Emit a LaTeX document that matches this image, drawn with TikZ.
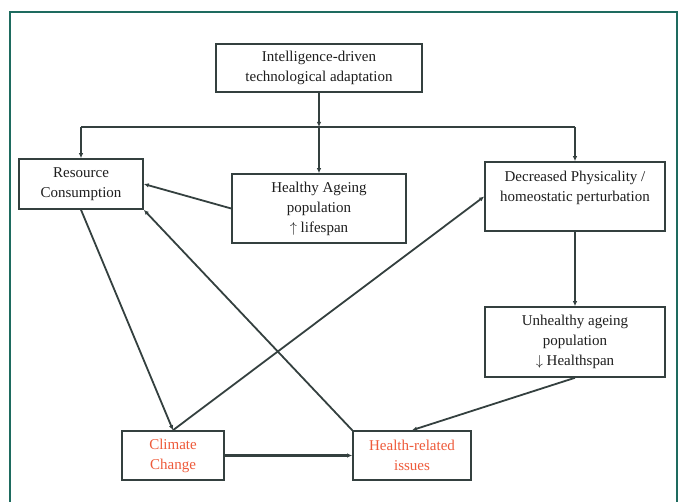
\documentclass[tikz,border=0pt]{standalone}
\usepackage{fontspec}
\setmainfont{Liberation Serif}
\usepackage{tikz}
\usetikzlibrary{arrows.meta,calc}
\definecolor{framegreen}{HTML}{1E6B5F}
\definecolor{boxline}{HTML}{34403F}
\definecolor{inktext}{HTML}{1E1E1E}
\definecolor{alertred}{HTML}{EE5A3A}
\tikzset{
  box/.style={draw=boxline,line width=1.6pt,fill=white,align=center,
    inner sep=2pt,text=inktext,font=\fontsize{15}{20}\selectfont},
  redbox/.style={box,text=alertred},
  link/.style={draw=boxline,line width=1.8pt,-{Latex[length=5pt,width=4.5pt]}}
}
\begin{document}
\begin{tikzpicture}[x=1pt,y=-1pt]
  \useasboundingbox (0,0) rectangle (686,502);
  \clip (0,0) rectangle (686,502);
  \draw[framegreen,line width=2.5pt] (10,12) rectangle (677,530);
  % boxes
  \node[box,minimum width=206pt,minimum height=48pt] (adapt) at (319,68)
    {Intelligence-driven\\technological adaptation};
  \node[box,minimum width=124pt,minimum height=50pt] (res) at (81,184)
    {Resource\\Consumption};
  \node[box,minimum width=174pt,minimum height=69pt] (healthy) at (319,208.5)
    {Healthy Ageing\\population\\$\uparrow$ lifespan};
  \node[box,minimum width=180pt,minimum height=69pt] (decr) at (575,196.5)
    {Decreased Physicality /\\homeostatic perturbation\\~};
  \node[box,minimum width=180pt,minimum height=70pt] (unhealthy) at (575,342)
    {Unhealthy ageing\\population\\$\downarrow$ Healthspan};
  \node[redbox,minimum width=102pt,minimum height=49pt] (climate) at (173,455.5)
    {Climate\\Change};
  \node[redbox,minimum width=118pt,minimum height=49pt] (health) at (412,455.5)
    {Health-related\\issues};
  % branching from the top box
  \coordinate (split) at (adapt.south |- 0,127);
  \draw[link] (adapt.south) -- (split);
  \draw[boxline,line width=1.8pt] (res.north |- split) -- (decr.north |- split);
  \draw[link] (res.north |- split) -- (res.north);
  \draw[link] (split) -- (healthy.north);
  \draw[link] (decr.north |- split) -- (decr.north);
  % the other links
  \draw[link] (healthy.west) -- (res.east);
  \draw[link] (decr.south) -- (unhealthy.north);
  \draw[link] (res.south) -- (climate.north);
  \draw[link] (health.north west) -- (res.south east);
  \draw[link] (climate.north) -- (decr.west);
  \draw[link] (unhealthy.south) -- (health.north);
  \draw[link,line width=2.6pt] (climate.east) -- (health.west);
\end{tikzpicture}
\end{document}
